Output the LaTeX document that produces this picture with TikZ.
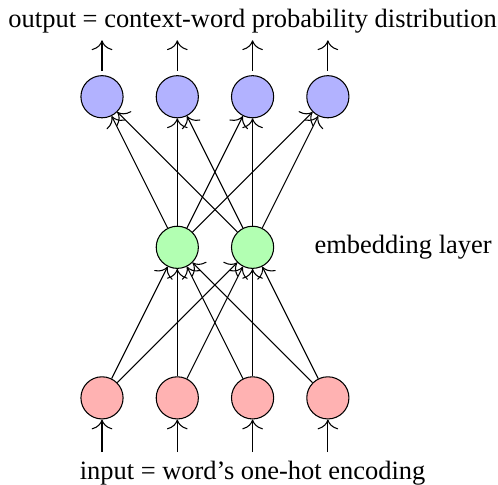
\documentclass[tikz,border=0pt]{standalone}
\usepackage{fontspec}
\setmainfont{Liberation Serif}
\usetikzlibrary{arrows.meta}
\colorlet{inputc}{red!30}
\colorlet{hiddenc}{green!30}
\colorlet{outputc}{blue!30}

\begin{document}
\begin{tikzpicture}[
    neuron/.style={circle,draw,minimum size=0.56cm,inner sep=0pt},
    >={Computer Modern Rightarrow[scale=1.5]},
    every path/.style={->}
]
\useasboundingbox (-1.355,-1.155) rectangle (5.26,5.285);

% input, embedding and output layers
\foreach \i in {1,...,4} {
    \node [neuron,fill=inputc] (in\i) at (\i-1,0) {};
    \node [neuron,fill=outputc] (out\i) at (\i-1,4) {};
    \coordinate (bot\i) at (\i-1,-0.72);
    \coordinate (top\i) at (\i-1,4.75);
}
\foreach \j in {1,2}
    \node [neuron,fill=hiddenc] (emb\j) at (\j,2) {};

% connections
\foreach \i in {1,...,4} {
    \draw (bot\i) -- (in\i);
    \draw [shorten <=1.5pt] (out\i) -- (top\i);
    \foreach \j in {1,2} {
        \draw (in\i) -- (emb\j);
        \draw (emb\j) -- (out\i);
    }
}

\node (outlabel) at (2,5) {output = context-word probability distribution};
\node (inlabel) at (2,-1) {input = word's one-hot encoding};
\node (emblabel) at (4,2) {embedding layer};

\end{tikzpicture}
\end{document}
